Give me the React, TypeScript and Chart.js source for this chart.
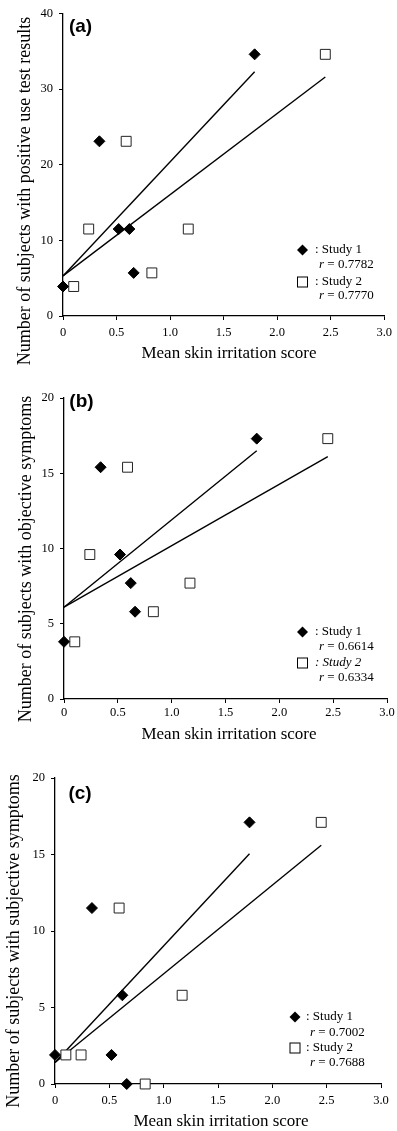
import React, { useEffect, useRef } from 'react';
import { Chart, registerables } from 'chart.js';

Chart.register(...registerables);

// ---- Data ----
const study1X = [0.0, 0.34, 0.52, 0.62, 0.66, 1.79];
const study2X = [0.1, 0.24, 0.59, 0.83, 1.17, 2.45];

const positiveStudy1 = [3.9, 23.1, 11.5, 11.5, 5.7, 34.6];
const positiveStudy2 = [3.9, 11.5, 23.1, 5.7, 11.5, 34.6];
const objectiveStudy1 = [3.8, 15.4, 9.6, 7.7, 5.8, 17.3];
const objectiveStudy2 = [3.8, 9.6, 15.4, 5.8, 7.7, 17.3];
const subjectiveStudy1 = [1.9, 11.5, 1.9, 5.8, 0, 17.1];
const subjectiveStudy2 = [1.9, 1.9, 11.5, 0, 5.8, 17.1];

// regression line end points
const fitX1 = [0, 1.79];
const fitX2 = [0, 2.45];
const fitPositive1 = [5.3, 32.3];
const fitPositive2 = [5.3, 31.6];
const fitObjective1 = [6.1, 16.5];
const fitObjective2 = [6.1, 16.1];
const fitSubjective1 = [1.4, 15.05];
const fitSubjective2 = [1.4, 15.6];

const xTickLabels = ['0', '0.5', '1.0', '1.5', '2.0', '2.5', '3.0'];
const yTickLabels40 = ['0', '10', '20', '30', '40'];
const yTickLabels20 = ['0', '5', '10', '15', '20'];

const rValuesA = ['0.7782', '0.7770'];
const rValuesB = ['0.6614', '0.6334'];
const rValuesC = ['0.7002', '0.7688'];

const xTitle = 'Mean skin irritation score';
const yTitles = [
  'Number of subjects with positive use test results',
  'Number of subjects with objective symptoms',
  'Number of subjects with subjective symptoms',
];
const panelLabels = ['(a)', '(b)', '(c)'];

const SERIF = '"Liberation Serif", "Times New Roman", serif';
const SANS = '"Liberation Sans", Arial, sans-serif';

const pts = (xs: number[], ys: number[]) => xs.map((x, i) => ({ x, y: ys[i] }));

type Panel = {
  top: number;
  height: number;
  padTop: number;
  padRight: number;
  yWidth: number;
  xHeight: number;
  xPad: number;
  yMax: number;
  yStep: number;
  yLabels: string[];
  s1: number[];
  s2: number[];
  f1: number[];
  f2: number[];
  label: string;
  labelPos: [number, number];
  yTitle: string;
  yTitlePos: [number, number];
  xTitlePos: [number, number];
  legend: { mx: number; tx: number; rows: number[]; italic2: boolean; r: string[] };
};

const panels: Panel[] = [
  {
    top: 0, height: 370, padTop: 13, padRight: 12, yWidth: 63, xHeight: 54, xPad: 5,
    yMax: 40, yStep: 10, yLabels: yTickLabels40,
    s1: positiveStudy1, s2: positiveStudy2, f1: fitPositive1, f2: fitPositive2,
    label: panelLabels[0], labelPos: [80.5, 27],
    yTitle: yTitles[0], yTitlePos: [25, 191], xTitlePos: [229, 354],
    legend: { mx: 302.5, tx: 315, rows: [250, 265, 282, 296], italic2: false, r: rValuesA },
  },
  {
    top: 370, height: 380, padTop: 28, padRight: 10, yWidth: 64, xHeight: 51, xPad: 2,
    yMax: 20, yStep: 5, yLabels: yTickLabels20,
    s1: objectiveStudy1, s2: objectiveStudy2, f1: fitObjective1, f2: fitObjective2,
    label: panelLabels[1], labelPos: [81.5, 32],
    yTitle: yTitles[1], yTitlePos: [26, 189], xTitlePos: [229, 365],
    legend: { mx: 302.5, tx: 315, rows: [262, 277, 293, 308], italic2: true, r: rValuesB },
  },
  {
    top: 750, height: 381, padTop: 28, padRight: 16, yWidth: 55, xHeight: 47, xPad: 5,
    yMax: 20, yStep: 5, yLabels: yTickLabels20,
    s1: subjectiveStudy1, s2: subjectiveStudy2, f1: fitSubjective1, f2: fitSubjective2,
    label: panelLabels[2], labelPos: [80, 44],
    yTitle: yTitles[2], yTitlePos: [14, 191], xTitlePos: [221, 372],
    legend: { mx: 295, tx: 306, rows: [267, 283, 298, 313], italic2: false, r: rValuesC },
  },
];

function makeTextPlugin(p: Panel) {
  return {
    id: 'panelText' + p.label,
    afterDraw(chart: any) {
      const ctx = chart.ctx as CanvasRenderingContext2D;
      ctx.save();
      ctx.fillStyle = '#000';
      ctx.strokeStyle = '#000';
      ctx.font = `bold 19px ${SANS}`;
      ctx.textAlign = 'center';
      ctx.textBaseline = 'middle';
      ctx.fillText(p.label, p.labelPos[0], p.labelPos[1]);
      ctx.font = `17px ${SERIF}`;
      ctx.fillText(xTitle, p.xTitlePos[0], p.xTitlePos[1]);
      ctx.save();
      ctx.translate(p.yTitlePos[0], p.yTitlePos[1]);
      ctx.rotate(-Math.PI / 2);
      ctx.font = `18px ${SERIF}`;
      ctx.fillText(p.yTitle, 0, 0);
      ctx.restore();
      const L = p.legend;
      ctx.textAlign = 'left';
      ctx.textBaseline = 'middle';
      const dy = L.rows[0];
      ctx.beginPath();
      ctx.moveTo(L.mx, dy - 5.5);
      ctx.lineTo(L.mx + 5.5, dy);
      ctx.lineTo(L.mx, dy + 5.5);
      ctx.lineTo(L.mx - 5.5, dy);
      ctx.closePath();
      ctx.fill();
      const sy = L.rows[2];
      ctx.fillStyle = '#fff';
      ctx.lineWidth = 1;
      ctx.fillRect(L.mx - 5, sy - 5, 10, 10);
      ctx.strokeRect(L.mx - 5, sy - 5, 10, 10);
      ctx.fillStyle = '#000';
      ctx.font = `13px ${SERIF}`;
      ctx.fillText(': Study 1', L.tx, L.rows[0]);
      ctx.font = `${L.italic2 ? 'italic ' : ''}13px ${SERIF}`;
      ctx.fillText(': Study 2', L.tx, L.rows[2]);
      const drawR = (val: string, y: number) => {
        const x0 = L.tx + 4;
        ctx.font = `italic 13px ${SERIF}`;
        ctx.fillText('r', x0, y);
        const w = ctx.measureText('r').width;
        ctx.font = `13px ${SERIF}`;
        ctx.fillText(' = ' + val, x0 + w, y);
      };
      drawR(L.r[0], L.rows[1]);
      drawR(L.r[1], L.rows[3]);
      ctx.restore();
    },
  };
}

function makeConfig(p: Panel): any {
  const tickFont = { family: SERIF, size: 12.5 };
  return {
    type: 'scatter',
    data: {
      datasets: [
        {
          label: 'Study 1',
          data: pts(study1X, p.s1),
          pointStyle: 'rectRot',
          pointRadius: 5.5,
          backgroundColor: '#000',
          borderColor: '#000',
          borderWidth: 1,
          clip: false,
        },
        {
          label: 'Study 2',
          data: pts(study2X, p.s2),
          pointStyle: 'rect',
          pointRadius: 7,
          backgroundColor: '#fff',
          borderColor: '#222',
          borderWidth: 1,
          clip: false,
        },
        {
          label: 'Fit 1',
          data: pts(fitX1, p.f1),
          showLine: true,
          pointRadius: 0,
          borderColor: '#000',
          borderWidth: 1.4,
          fill: false,
          clip: false,
        },
        {
          label: 'Fit 2',
          data: pts(fitX2, p.f2),
          showLine: true,
          pointRadius: 0,
          borderColor: '#000',
          borderWidth: 1.4,
          fill: false,
          clip: false,
        },
      ],
    },
    options: {
      responsive: false,
      animation: false,
      events: [],
      layout: { padding: { top: p.padTop, right: p.padRight, left: 0, bottom: 0 } },
      plugins: { legend: { display: false }, tooltip: { enabled: false } },
      scales: {
        x: {
          type: 'linear',
          min: 0,
          max: 3,
          afterFit: (s: any) => { s.height = p.xHeight; },
          ticks: {
            stepSize: 0.5,
            callback: (_v: any, i: number) => xTickLabels[i],
            font: tickFont,
            color: '#000',
            padding: p.xPad,
            maxRotation: 0,
            autoSkip: false,
          },
          grid: { drawOnChartArea: false, drawTicks: true, tickLength: 4, color: '#000', lineWidth: 1 },
          border: { color: '#000', width: 1.3 },
        },
        y: {
          type: 'linear',
          min: 0,
          max: p.yMax,
          afterFit: (s: any) => { s.width = p.yWidth; },
          ticks: {
            stepSize: p.yStep,
            callback: (_v: any, i: number) => p.yLabels[i],
            font: tickFont,
            color: '#000',
            padding: 6,
          },
          grid: { drawOnChartArea: false, drawTicks: true, tickLength: 4, color: '#000', lineWidth: 1 },
          border: { color: '#000', width: 1.3 },
        },
      },
    },
    plugins: [makeTextPlugin(p)],
  };
}

function PanelChart({ p }: { p: Panel }) {
  const ref = useRef<HTMLCanvasElement | null>(null);
  useEffect(() => {
    if (!ref.current) return;
    const chart = new Chart(ref.current, makeConfig(p));
    return () => chart.destroy();
  }, [p]);
  return (
    <canvas
      ref={ref}
      width={397}
      height={p.height}
      style={{ position: 'absolute', left: 0, top: p.top, width: 397, height: p.height }}
    />
  );
}

export default function App() {
  return (
    <div style={{ position: 'absolute', left: 0, top: 0, width: 397, height: 1131, background: '#fff', overflow: 'hidden' }}>
      {panels.map((p) => (
        <PanelChart key={p.label} p={p} />
      ))}
    </div>
  );
}
